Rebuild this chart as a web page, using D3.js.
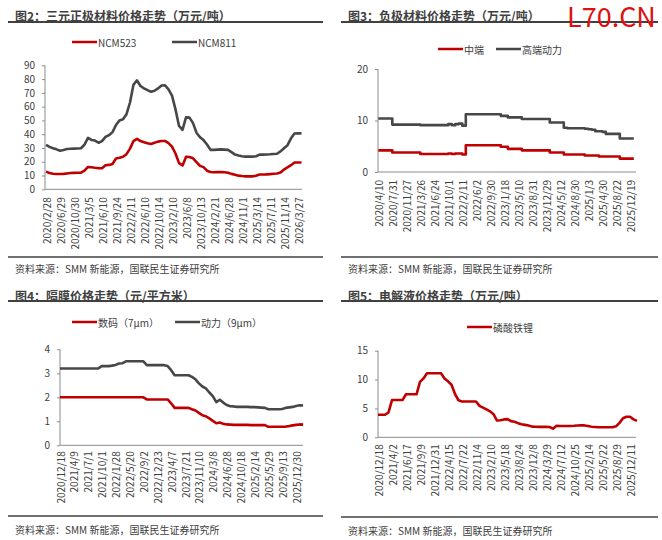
<!DOCTYPE html>
<html>
<head>
<meta charset="utf-8">
<script src="https://cdn.jsdelivr.net/npm/d3@7"></script>
<style>
body { margin: 0; background: #fff; }
text { font-family: "Noto Sans CJK SC", "Noto Sans", sans-serif; }
</style>
</head>
<body>
<svg id="chart" width="662" height="540"></svg>
<script>
// 4 data points between two x labels
var PTS_PER_LABEL = 4;

// 图2 三元正极
var ncmLabels = ["2020/2/28", "2020/6/29", "2020/10/30", "2021/3/5", "2021/6/10", "2021/9/24", "2022/2/11",
    "2022/6/10", "2022/10/14", "2023/2/10", "2023/6/8", "2023/10/13", "2024/2/21", "2024/6/28", "2024/11/1",
    "2025/3/14", "2025/7/11", "2025/11/14", "2026/3/27"];
var ncm523 = [12.8, 11.8, 11.3, 11.1, 11.1, 11.2, 11.5, 11.8, 11.9, 12, 12.1, 13.5, 16.2, 16, 15.6, 15.4, 15.3,
    17.5, 17.7, 18.4, 22.4, 22.9, 23.6, 25.5, 29.5, 35, 36.6, 35, 34.2, 33.4, 32.9, 33.8, 34.6, 35.1, 35.1, 33.5,
    31, 26, 19, 17.3, 23.5, 23.4, 22.5, 19.8, 17, 16.1, 13.5, 12.6, 12.4, 12.5, 12.6, 12.4, 12, 11.2, 10.6, 9.9,
    9.6, 9.4, 9.4, 9.4, 9.8, 10.7, 10.7, 10.8, 11, 11.3, 11.5, 12.2, 14.3, 16, 17.5, 19.4, 19.5, 19.4];
var ncm811 = [32.2, 30.8, 29.8, 29, 28, 28.6, 29.3, 29.4, 29.5, 29.6, 29.8, 32.5, 37.3, 35.8, 35.4, 33.8, 35,
    38, 39.3, 41.5, 46.7, 50, 50.8, 54.5, 63, 76, 79, 75, 73.3, 72, 70.8, 71.5, 73.2, 75.3, 75.5, 72.5, 68, 58,
    46, 43.2, 52.2, 52, 48, 41, 37.8, 35.7, 32.5, 28.6, 28.6, 28.8, 29, 28.8, 28.6, 27, 25.2, 24.5, 24, 23.7,
    23.7, 23.7, 24, 25.2, 25.2, 25.3, 25.4, 25.6, 25.8, 27.5, 29.8, 32, 37, 40.5, 40.7, 40.6];

// 图3 负极
var anodeLabels = ["2020/4/10", "2020/7/31", "2020/11/27", "2021/3/26", "2021/6/24", "2021/10/1", "2022/2/11",
    "2022/6/2", "2022/9/30", "2023/1/18", "2023/5/10", "2023/8/31", "2023/12/29", "2024/5/12", "2024/8/30",
    "2025/1/3", "2025/4/30", "2025/8/22", "2025/12/19"];
var anodeMid = [4.2, 4.2, 4.2, 4.2, 3.8, 3.8, 3.8, 3.8, 3.8, 3.8, 3.8, 3.8, 3.5, 3.5, 3.5, 3.5, 3.5, 3.5, 3.5,
    3.5, 3.6, 3.5, 3.6, 3.6, 3.4, 5.2, 5.2, 5.2, 5.2, 5.2, 5.2, 5.2, 5.2, 5.2, 5.2, 4.9, 4.9, 4.5, 4.5, 4.5, 4.5,
    4.2, 4.2, 4.2, 4.2, 4.2, 4.2, 4.2, 4.2, 3.8, 3.8, 3.8, 3.8, 3.4, 3.4, 3.4, 3.4, 3.4, 3.4, 3.2, 3.2, 3.2, 3.2,
    3.0, 3.0, 3.0, 3.0, 3.0, 3.0, 2.6, 2.6, 2.6, 2.6, 2.6];
var anodeHigh = [10.4, 10.4, 10.4, 10.4, 9.2, 9.2, 9.2, 9.2, 9.2, 9.2, 9.2, 9.2, 9.1, 9.1, 9.1, 9.1, 9.1, 9.1,
    9.1, 9.1, 9.3, 9.1, 9.3, 9.4, 9.0, 11.2, 11.2, 11.2, 11.2, 11.2, 11.2, 11.2, 11.2, 11.2, 11.2, 10.9, 10.9,
    10.6, 10.6, 10.6, 10.6, 10.3, 10.3, 10.3, 10.3, 10.3, 10.3, 10.3, 10.3, 9.6, 9.6, 9.6, 9.6, 8.6, 8.5, 8.5,
    8.5, 8.5, 8.5, 8.4, 8.3, 8.2, 7.9, 7.9, 7.8, 7.4, 7.4, 7.4, 7.4, 6.5, 6.5, 6.5, 6.5, 6.5];

// 图4 隔膜
var sepLabels = ["2020/12/18", "2021/4/9", "2021/7/1", "2021/10/1", "2022/1/28", "2022/5/20", "2022/9/2",
    "2022/12/23", "2023/4/7", "2023/7/21", "2023/11/10", "2024/3/8", "2024/6/28", "2024/10/18", "2025/2/14",
    "2025/5/29", "2025/9/13", "2025/12/30"];
var sepDigital = [2, 2, 2, 2, 2, 2, 2, 2, 2, 2, 2, 2, 2, 2, 2, 2, 2, 2, 2, 2, 2, 2, 2, 2, 2, 1.91, 1.91, 1.91,
    1.91, 1.91, 1.91, 1.91, 1.75, 1.56, 1.56, 1.56, 1.56, 1.56, 1.5, 1.45, 1.35, 1.25, 1.21, 1.12, 1.02, 0.92,
    0.95, 0.9, 0.87, 0.86, 0.85, 0.85, 0.85, 0.85, 0.85, 0.84, 0.84, 0.84, 0.84, 0.84, 0.77, 0.77, 0.77, 0.77,
    0.77, 0.78, 0.8, 0.83, 0.85, 0.87, 0.86];
var sepPower = [3.2, 3.2, 3.2, 3.2, 3.2, 3.2, 3.2, 3.2, 3.2, 3.2, 3.2, 3.2, 3.3, 3.3, 3.3, 3.32, 3.35, 3.41,
    3.42, 3.5, 3.5, 3.5, 3.5, 3.5, 3.5, 3.34, 3.34, 3.34, 3.34, 3.34, 3.34, 3.3, 3.13, 2.92, 2.92, 2.92, 2.92,
    2.92, 2.85, 2.75, 2.58, 2.45, 2.37, 2.2, 2.05, 1.8, 1.9, 1.78, 1.68, 1.63, 1.62, 1.6, 1.6, 1.6, 1.6, 1.59,
    1.59, 1.58, 1.57, 1.56, 1.5, 1.5, 1.5, 1.5, 1.51, 1.56, 1.58, 1.6, 1.64, 1.67, 1.66];

// 图5 电解液
var elecLabels = ["2020/12/18", "2021/4/2", "2021/6/17", "2021/9/9", "2021/12/31", "2022/4/15", "2022/7/22",
    "2022/11/4", "2023/2/10", "2023/5/18", "2023/8/24", "2023/12/8", "2024/3/29", "2024/7/12", "2024/10/25",
    "2025/2/14", "2025/5/22", "2025/8/29", "2025/12/11"];
var elecLfp = [3.9, 3.9, 3.9, 4.3, 6.45, 6.45, 6.45, 6.45, 7.45, 7.45, 7.45, 7.45, 9.6, 10.2, 11.1, 11.1, 11.1,
    11.1, 11.1, 10.2, 9.7, 9.1, 7.5, 6.4, 6.2, 6.2, 6.2, 6.2, 6.2, 5.45, 5.15, 4.85, 4.5, 4.0, 2.9, 2.95, 3.1,
    3.15, 2.8, 2.7, 2.45, 2.25, 2.15, 2.05, 1.85, 1.82, 1.8, 1.8, 1.8, 1.78, 1.5, 2.0, 1.97, 1.96, 1.96, 1.97,
    2.0, 2.05, 2.08, 2.06, 1.95, 1.83, 1.78, 1.73, 1.73, 1.73, 1.73, 1.75, 1.9, 2.5, 3.3, 3.55, 3.55, 3.1, 2.85];

var RED = "#c00000", GREY = "#474747", INK = "#404040", AXIS = "#8c8c8c";
var svg = d3.select("#chart");
svg.append("rect").attr("width", 662).attr("height", 540).attr("fill", "#fff");

function drawPanel(p) {
    var g = svg.append("g");

    // title + rule
    g.append("text").attr("x", p.titleX).attr("y", p.titleY)
        .attr("dominant-baseline", "central")
        .attr("font-size", "12px").attr("font-weight", "bold").attr("fill", INK)
        .text(p.title);
    g.append("line").attr("x1", p.left).attr("x2", p.right)
        .attr("y1", p.ruleY).attr("y2", p.ruleY)
        .attr("stroke", INK).attr("stroke-width", 2);

    // legend
    p.series.forEach(function(s) {
        g.append("line").attr("x1", s.legendX).attr("x2", s.legendX + 25)
            .attr("y1", p.legendY).attr("y2", p.legendY)
            .attr("stroke", s.color).attr("stroke-width", 2.5);
        g.append("text").attr("x", s.legendX + 26).attr("y", p.legendY)
            .attr("dominant-baseline", "central")
            .attr("font-size", "10px").attr("fill", INK)
            .text(s.name);
    });

    var x = d3.scaleLinear().domain([0, 1]).range([p.x0, p.x0 + p.dx]);
    var y = d3.scaleLinear().domain([0, p.yMax]).range([p.y0, p.yTop]);

    // y axis
    var yAxis = d3.axisLeft(y).tickValues(d3.range(0, p.yMax + 0.001, p.yStep))
        .tickSize(3).tickPadding(7).tickFormat(d3.format("d"));
    var ya = g.append("g").attr("transform", "translate(" + p.axisX + ",0)").call(yAxis);
    ya.select(".domain").remove();
    ya.append("line").attr("x1", 0).attr("x2", 0).attr("y1", p.yTop).attr("y2", p.y0)
        .attr("stroke", AXIS);
    ya.selectAll(".tick line").attr("stroke", AXIS);
    ya.selectAll(".tick text").attr("fill", INK).attr("font-size", "10px")
        .style("font-family", "'Noto Sans CJK SC', sans-serif");

    // x axis (category labels every PTS_PER_LABEL points)
    g.append("line").attr("x1", p.axisX).attr("x2", p.xEnd)
        .attr("y1", p.y0).attr("y2", p.y0).attr("stroke", AXIS);
    g.selectAll("text.xl").data(p.labels).enter().append("text")
        .attr("class", "xl")
        .attr("transform", function(d, i) {
            return "translate(" + x(i * PTS_PER_LABEL) + "," + (p.y0 + p.labelGap) + ") rotate(-90)";
        })
        .attr("text-anchor", "end").attr("dominant-baseline", "central")
        .attr("font-size", "10px").attr("fill", INK)
        .text(String);

    // lines
    var line = d3.line()
        .x(function(d, i) { return x(i); })
        .y(function(d) { return y(d); })
        .curve(p.curve || d3.curveLinear);
    p.series.forEach(function(s) {
        g.append("path").datum(s.values)
            .attr("d", line)
            .attr("fill", "none").attr("stroke", s.color)
            .attr("stroke-width", 2.6).attr("stroke-linejoin", "round");
    });

    // source note
    g.append("line").attr("x1", p.left).attr("x2", p.right)
        .attr("y1", p.noteLineY).attr("y2", p.noteLineY)
        .attr("stroke", INK).attr("stroke-width", 1.6);
    g.append("text").attr("x", p.titleX).attr("y", p.noteY)
        .attr("dominant-baseline", "central")
        .attr("font-size", "10px").attr("fill", INK)
        .text("资料来源：SMM 新能源，国联民生证券研究所");
}

drawPanel({
    title: "图2：三元正极材料价格走势（万元/吨）", titleX: 15, titleY: 15, ruleY: 22, left: 8, right: 323,
    legendY: 42, axisX: 45, xEnd: 302, x0: 46, dx: 3.5, y0: 189.3, yTop: 65.3, yMax: 90, yStep: 10,
    labelGap: 8, labels: ncmLabels, noteLineY: 257, noteY: 268,
    series: [{name: "NCM523", values: ncm523, color: RED, legendX: 72},
             {name: "NCM811", values: ncm811, color: GREY, legendX: 172}]
});

drawPanel({
    title: "图3：负极材料价格走势（万元/吨）", titleX: 348, titleY: 15, ruleY: 22, left: 341, right: 658,
    legendY: 49, axisX: 378, xEnd: 636, x0: 378.3, dx: 3.5, y0: 172, yTop: 69, yMax: 20, yStep: 10,
    labelGap: 8, labels: anodeLabels, noteLineY: 257, noteY: 268, curve: d3.curveStepAfter,
    series: [{name: "中端", values: anodeMid, color: RED, legendX: 438},
             {name: "高端动力", values: anodeHigh, color: GREY, legendX: 496}]
});

drawPanel({
    title: "图4：隔膜价格走势（元/平方米）", titleX: 15, titleY: 295, ruleY: 301, left: 8, right: 323,
    legendY: 322, axisX: 60, xEnd: 303, x0: 60, dx: 3.473, y0: 445.3, yTop: 349.3, yMax: 4, yStep: 1,
    labelGap: 6, labels: sepLabels, noteLineY: 516, noteY: 529,
    series: [{name: "数码（7μm）", values: sepDigital, color: RED, legendX: 72},
             {name: "动力（9μm）", values: sepPower, color: GREY, legendX: 175}]
});

drawPanel({
    title: "图5：电解液价格走势（万元/吨）", titleX: 348, titleY: 295, ruleY: 301, left: 341, right: 658,
    legendY: 327, axisX: 378, xEnd: 636, x0: 378, dx: 3.5, y0: 437.3, yTop: 350.7, yMax: 15, yStep: 5,
    labelGap: 7, labels: elecLabels, noteLineY: 517, noteY: 530,
    series: [{name: "磷酸铁锂", values: elecLfp, color: RED, legendX: 467}]
});

// watermark
svg.append("text").attr("x", 567).attr("y", 27)
    .attr("font-family", "'Liberation Sans', Arial, sans-serif")
    .attr("font-size", "27px").attr("fill", "#e01010")
    .text("L70.CN");
</script>
</body>
</html>
